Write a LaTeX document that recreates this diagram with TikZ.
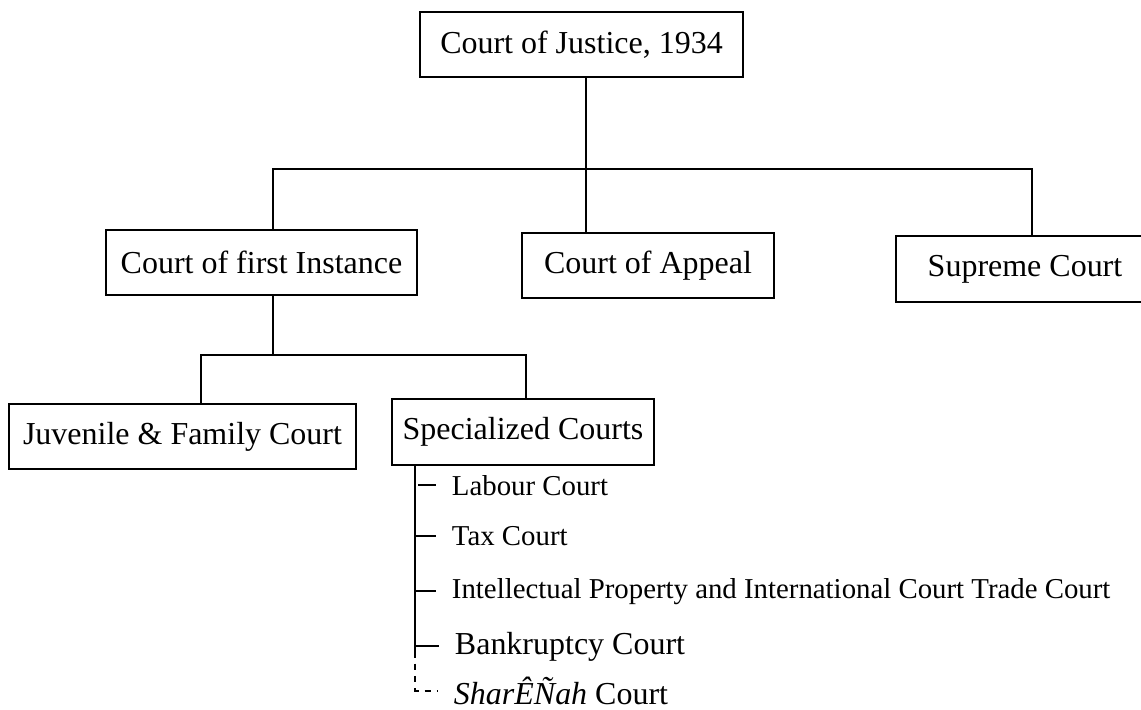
\documentclass[tikz,border=0pt]{standalone}
\usepackage{fontspec}
\setmainfont{Liberation Serif}
\usetikzlibrary{calc}

\tikzset{
  court/.style={draw, rectangle, line width=1.1pt, inner sep=0pt, minimum height=1.3cm, font=\fontsize{18.2}{22}\selectfont},
  branch/.style={anchor=base west, inner xsep=0.3cm, inner ysep=0pt},
  small/.style={font=\fontsize{16.4}{20}\selectfont},
  big/.style={font=\fontsize{18.2}{22}\selectfont},
  link/.style={line width=1.1pt},
  maybe/.style={link, dash pattern=on 3.5pt off 3.5pt}
}

\begin{document}
\begin{tikzpicture}[link]
  \useasboundingbox (0,0) rectangle (22.82,-14.2);

  \node[court, minimum width=6.46cm] (justice) at (11.63,-0.89) {Court of Justice, 1934};
  \node[court, minimum width=6.22cm] (first) at (5.23,-5.25) {Court of first Instance};
  \node[court, minimum width=5.04cm] (appeal) at (12.96,-5.31) {Court of Appeal};
  \node[court, minimum width=5.16cm, minimum height=1.32cm] (supreme) at (20.50,-5.38) {Supreme Court};
  \node[court, minimum width=6.94cm] (juvenile) at (3.65,-8.73) {Juvenile \& Family Court};
  \node[court, minimum width=5.24cm, minimum height=1.32cm] (special) at (10.46,-8.64) {Specialized Courts};

  % first level
  \coordinate (hub) at (11.72,-3.38);
  \coordinate (busL) at (5.46,-3.38);
  \coordinate (busR) at (20.64,-3.38);
  \draw (hub |- justice.south) -- (hub |- appeal.north);
  \draw (first.north -| busL) -- (busL) -- (busR) -- (busR |- supreme.north);

  % second level
  \coordinate (forkL) at (4.02,-7.10);
  \coordinate (forkR) at (10.52,-7.10);
  \draw (first.south -| busL) -- (busL |- forkL);
  \draw (forkL |- juvenile.north) -- (forkL) -- (forkR) -- (forkR |- special.north);

  % specialized courts
  \node[branch, small] (labour) at (8.72,-9.90) {Labour Court};
  \node[branch, small] (tax) at (8.72,-10.90) {Tax Court};
  \node[branch, small] (ipr) at (8.72,-11.96) {Intellectual Property and International Court Trade Court};
  \node[branch, big] (bankrupt) at (8.78,-13.08) {Bankruptcy Court};
  \node[branch, big] (sharia) at (8.76,-14.09) {\textit{SharÊÑah} Court};

  \coordinate (spine) at ($(special.south west)+(0.48,0)$);
  \draw (spine) -- ($(spine |- bankrupt.west)+(0,-0.1)$);
  \draw[maybe] ($(spine |- bankrupt.west)+(0,-0.1)$) -- (spine |- sharia.west) -- (sharia.west);

  \draw ($(spine |- labour.west)+(0.06,0)$) -- (labour.west);
  \draw (spine |- tax.west) -- (tax.west);
  \draw (spine |- ipr.west) -- (ipr.west);
  \draw (spine |- bankrupt.west) -- (bankrupt.west);
\end{tikzpicture}
\end{document}
